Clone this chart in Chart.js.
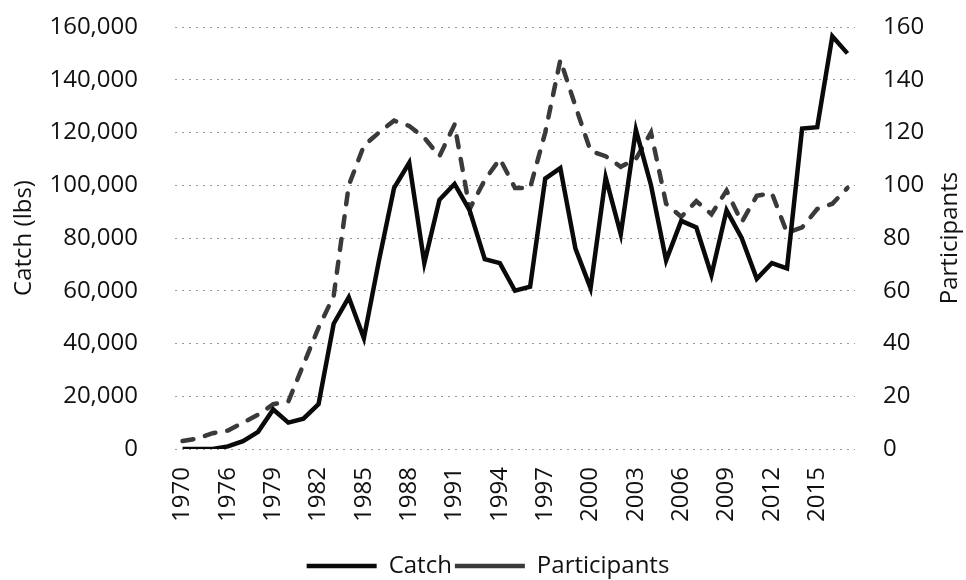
<!DOCTYPE html>
<html>
<head>
<meta charset="utf-8">
<script src="https://cdn.jsdelivr.net/npm/chart.js@4"></script>
<style>
  html, body { margin: 0; padding: 0; background: #fff; }
  #wrap { width: 966px; height: 580px; }
</style>
</head>
<body>
<div id="wrap"><canvas id="catchChart" width="966" height="580"></canvas></div>
<script>
const years = ["1970", "1972", "1974", "1976", "1977", "1978", "1979", "1980", "1981", "1982",
  "1983", "1984", "1985", "1986", "1987", "1988", "1989", "1990", "1991", "1992",
  "1993", "1994", "1995", "1996", "1997", "1998", "1999", "2000", "2001", "2002",
  "2003", "2004", "2005", "2006", "2007", "2008", "2009", "2010", "2011", "2012",
  "2013", "2014", "2015", "2016", "2017"];

const catchLbs = [0, 0, 0, 1000, 3000, 6500, 15000, 10000, 11500, 17000,
  47500, 57500, 42000, 71500, 99000, 108500, 70500, 94500, 100500, 90500,
  72000, 70500, 60000, 61500, 102500, 106500, 76000, 61000, 103000, 81500,
  121000, 100000, 71500, 86500, 84000, 66000, 90500, 80000, 64500, 70500,
  68500, 121500, 122000, 156500, 150000];

const participants = [3, 4, 6, 7, 10, 13, 17, 18, 32, 46,
  58, 100, 115, 120, 124.5, 122.5, 118, 111, 123, 91,
  102, 110, 99, 99, 120, 147.5, 130, 113, 111, 107,
  110, 120, 93, 88, 94, 89, 98, 86, 96, 97,
  82, 84, 91, 93, 99];

const catchTicks = [0, 20000, 40000, 60000, 80000, 100000, 120000, 140000, 160000];

const FONT = "'Open Sans', sans-serif";
Chart.defaults.font.family = FONT;
Chart.defaults.font.size = 24;
Chart.defaults.color = "#111";

// right axis title reads bottom-to-top like the left one
const rightTitle = {
  id: "rightTitle",
  afterDraw(chart) {
    const s = chart.scales.y2;
    const ctx = chart.ctx;
    ctx.save();
    ctx.font = "24px " + FONT;
    ctx.fillStyle = "#111";
    ctx.textAlign = "center";
    ctx.textBaseline = "middle";
    ctx.translate(950, (s.top + s.bottom) / 2);
    ctx.rotate(-Math.PI / 2);
    ctx.fillText("Participants", 0, 0);
    ctx.restore();
  }
};

new Chart(document.getElementById("catchChart"), {
  type: "line",
  data: {
    labels: years,
    datasets: [
      {
        label: "Catch",
        data: catchLbs,
        yAxisID: "y",
        borderColor: "#0a0a0a",
        backgroundColor: "#0a0a0a",
        borderWidth: 4.5,
        pointRadius: 0,
        tension: 0
      },
      {
        label: "Participants",
        data: participants,
        yAxisID: "y2",
        borderColor: "#3a3a3a",
        backgroundColor: "#3a3a3a",
        borderWidth: 4.5,
        borderDash: [11, 12],
        borderCapStyle: "round",
        pointRadius: 0,
        tension: 0
      }
    ]
  },
  options: {
    responsive: false,
    animation: false,
    layout: { padding: { top: 27, left: 10, right: 0, bottom: -8 } },
    plugins: {
      legend: {
        position: "bottom",
        labels: {
          usePointStyle: true,
          pointStyle: "line",
          pointStyleWidth: 70,
          padding: 3,
          color: "#111"
        }
      },
      tooltip: { enabled: false }
    },
    scales: {
      x: {
        offset: true,
        grid: { display: false },
        border: { display: false },
        afterFit: function (s) { s.height = 102; },
        ticks: {
          autoSkip: false,
          maxRotation: 90,
          minRotation: 90,
          padding: 10,
          callback: function (v, i) { return i % 3 === 0 ? years[i] : ""; }
        }
      },
      y: {
        position: "left",
        min: 0,
        max: 160000,
        afterBuildTicks: function (axis) { axis.ticks = catchTicks.map(v => ({ value: v })); },
        afterFit: function (s) { s.width = 165; },
        border: { display: false, dash: [2, 5] },
        grid: { color: "#9a9a9a", drawTicks: true, tickLength: 30, tickColor: "rgba(0,0,0,0)", lineWidth: 1 },
        ticks: {
          padding: 7,
          callback: function (v) { return v.toLocaleString("en-US"); }
        },
        title: { display: true, text: "Catch (lbs)", padding: { top: 0, bottom: 0 } }
      },
      y2: {
        position: "right",
        min: 0,
        max: 160,
        afterFit: function (s) { s.width = 111; },
        border: { display: false },
        grid: { display: false, drawOnChartArea: false, drawTicks: true, tickLength: 22, tickColor: "rgba(0,0,0,0)" },
        ticks: { stepSize: 20, padding: 6 }
      }
    }
  },
  plugins: [rightTitle]
});
</script>
</body>
</html>
